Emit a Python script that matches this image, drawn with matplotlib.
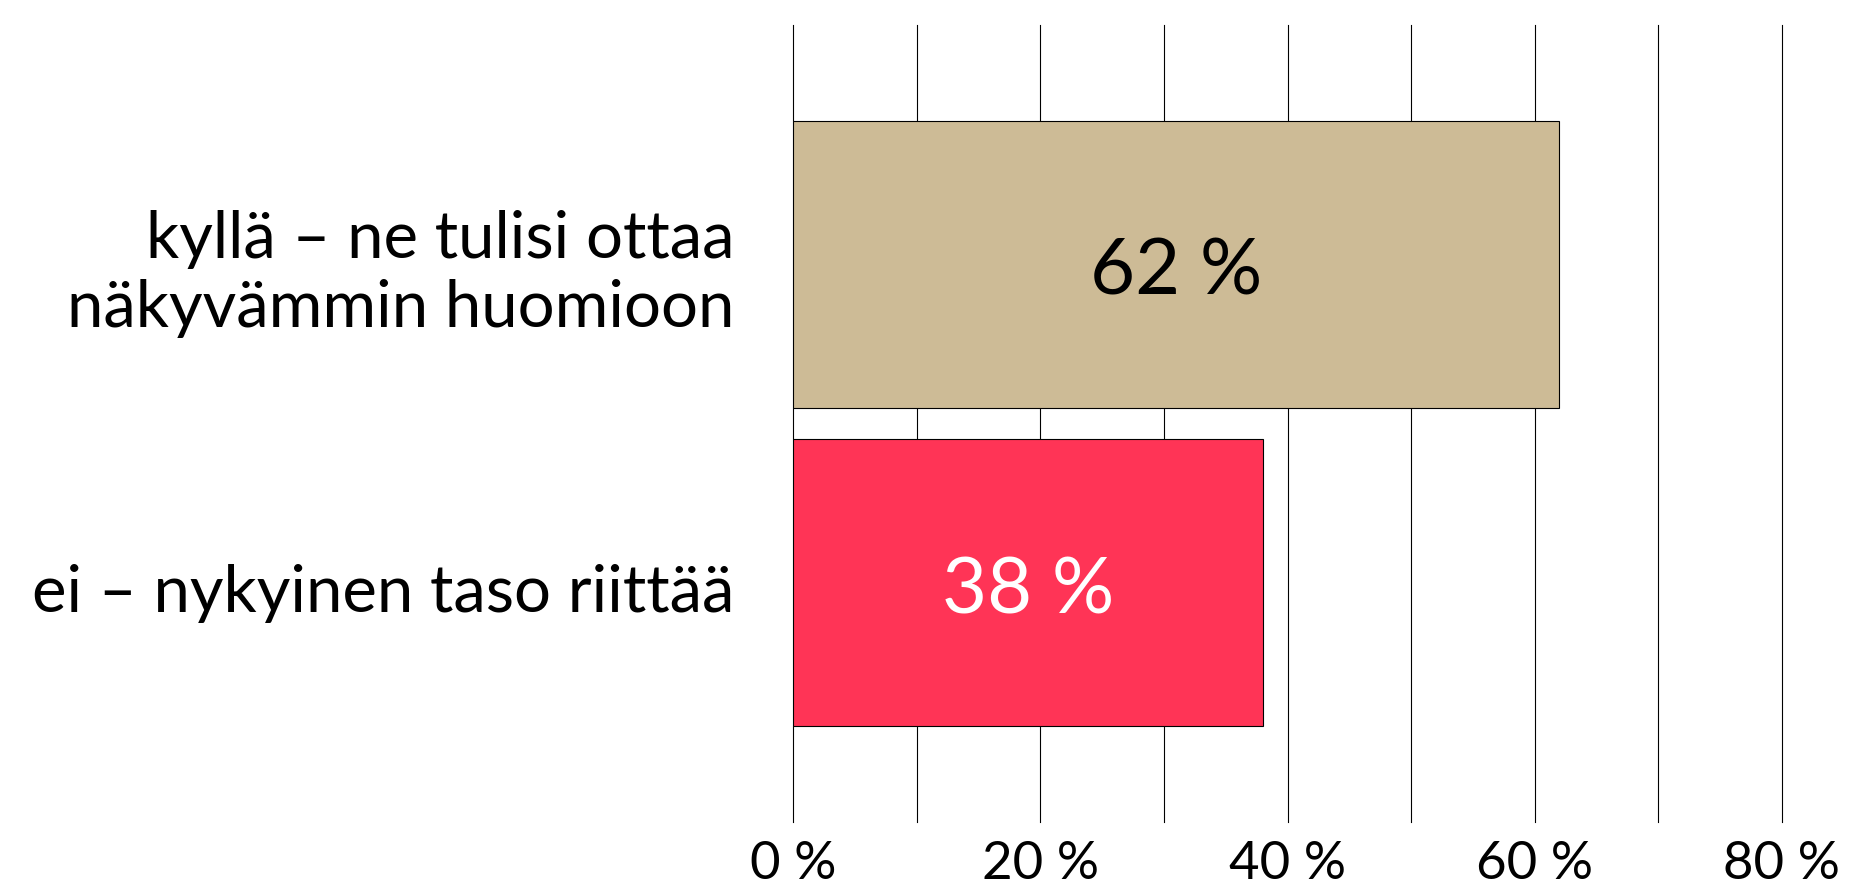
import matplotlib.pyplot as plt

plt.rcParams['font.family'] = ['Lato', 'DejaVu Sans']

categories = ["kyllä – ne tulisi ottaa\nnäkyvämmin huomioon", "ei – nykyinen taso riittää"]
values = [62, 38]
colors = ['#CDBB96', '#FF3456']
label_colors = ['black', 'white']
x_ticks = [0, 20, 40, 60, 80]
x_grid = [0, 10, 20, 30, 40, 50, 60, 70, 80]

fig = plt.figure(figsize=(18.56, 8.85), dpi=100)
ax = fig.add_axes([0.4273, 0.0712, 0.5328, 0.9006])

ypos = list(range(len(categories)))
bars = ax.barh(ypos, values, height=0.9, color=colors, edgecolor='black', linewidth=0.8, zorder=3)

# value labels inside bars (baseline a bit below centre)
for y, v, c in zip(ypos, values, label_colors):
    ax.text(v / 2, y + 0.095, f"{v} %", ha='center', va='baseline',
            fontsize=56, color=c, zorder=4)

# category labels, one text per line so the spacing can be set
line_gap = 0.215
for y, cat in zip(ypos, categories):
    lines = cat.split('\n')
    first = y + 0.09 - (len(lines) - 1) * line_gap / 2
    for i, ln in enumerate(lines):
        ax.annotate(ln, xy=(0, first + i * line_gap), xycoords=ax.get_yaxis_transform(),
                    xytext=(-59, 0), textcoords='offset pixels',
                    ha='right', va='baseline', fontsize=47)

for g in x_grid:
    ax.axvline(g, color='black', linewidth=0.8, zorder=1, clip_on=False)

ax.set_xlim(0, 80)
ax.set_ylim(1.75, -0.75)
ax.set_yticks([])
ax.set_xticks(x_ticks)
ax.set_xticklabels([f"{t} %" for t in x_ticks], fontsize=38)
ax.tick_params(axis='both', length=0)
ax.tick_params(axis='x', pad=14)
for s in ax.spines.values():
    s.set_visible(False)

fig.savefig('out.png', dpi=100)
